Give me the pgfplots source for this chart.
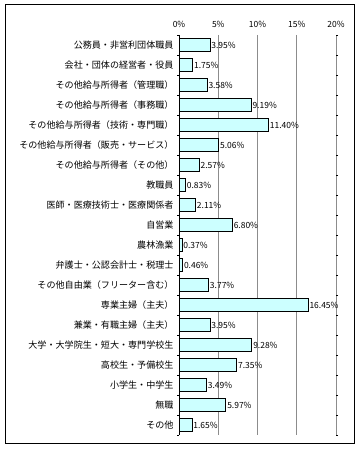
\documentclass[border=0pt]{standalone}
\usepackage{fontspec}
\setmainfont{Noto Sans CJK JP}
\usepackage{pgfplots}
\pgfplotsset{compat=1.18}
\usepackage{pgfplotstable}
\definecolor{barfill}{HTML}{CCFFFF}
\pgfplotstableread{
x y
3.95 0
1.75 1
3.58 2
9.19 3
11.40 4
5.06 5
2.57 6
0.83 7
2.11 8
6.80 9
0.37 10
0.46 11
3.77 12
16.45 13
3.95 14
9.28 15
7.35 16
3.49 17
5.97 18
1.65 19
}\datatable
\begin{document}
\begin{tikzpicture}[x=1bp,y=1bp]
\useasboundingbox (0,0) rectangle (360,450);
\draw[black, line width=1bp] (5,6) rectangle (354,445);
\begin{axis}[
  at={(179bp,15bp)}, anchor=south west,
  scale only axis, width=157bp, height=400bp,
  xbar, bar width=13.5bp,
  xmin=0, xmax=20,
  ymin=-0.5, ymax=19.5, y dir=reverse,
  axis line style={draw=none},
  xtick={5,10,15,20},
  extra x ticks={0},
  extra x tick style={grid style={black, line width=0.8bp}},
  xticklabels={5\%,10\%,15\%,20\%},
  extra x tick labels={0\%},
  xticklabel pos=top,
  xmajorgrids, grid style={gray!90, line width=0.8bp},
  major tick length=0pt,
  ytick={0,...,19},
  minor ytick={-0.5,0.5,...,19.5},
  minor tick length=2bp,
  minor tick style={black},
  yticklabels={公務員・非営利団体職員,会社・団体の経営者・役員,その他給与所得者（管理職）,その他給与所得者（事務職）,その他給与所得者（技術・専門職）,その他給与所得者（販売・サービス）,その他給与所得者（その他）,教職員,医師・医療技術士・医療関係者,自営業,農林漁業,弁護士・公認会計士・税理士,その他自由業（フリーター含む）,専業主婦（主夫）,兼業・有職主婦（主夫）,大学・大学院生・短大・専門学校生,高校生・予備校生,小学生・中学生,無職,その他},
  yticklabel style={font=\fontsize{9.1}{10}\selectfont, xshift=-2bp},
  xticklabel style={font=\fontsize{8.5}{9}\selectfont, yshift=4bp},
  /pgf/number format/assume math mode=true,
  point meta=x,
  nodes near coords={\pgfmathprintnumber[fixed,fixed zerofill,precision=2]{\pgfplotspointmeta}\%},
  nodes near coords style={font=\fontsize{8.5}{9}\selectfont, inner sep=1bp},
  clip=false,
]
\addplot[fill=barfill, draw=black, line width=0.8bp] table[x=x,y=y] {\datatable};
\end{axis}
\end{tikzpicture}
\end{document}
